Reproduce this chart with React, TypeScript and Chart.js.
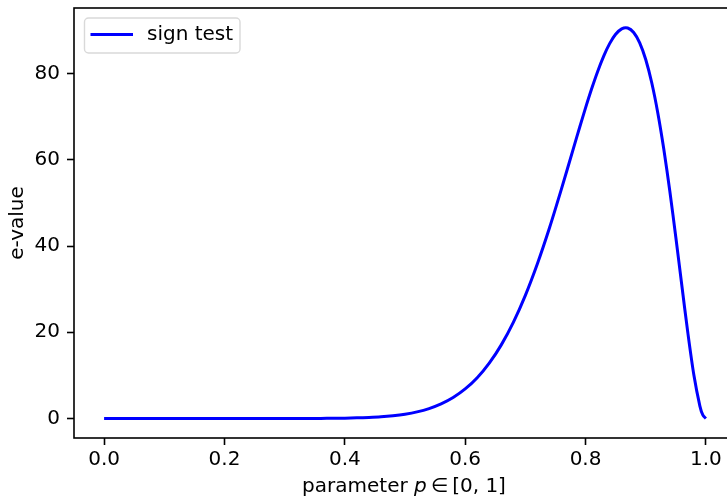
import React, { useEffect, useRef } from "react";
import { Chart, registerables } from "chart.js";

Chart.register(...registerables);

const pValues = [
  0, 0.1, 0.2, 0.3, 0.32, 0.34, 0.36, 0.38, 0.4, 0.42, 0.44, 0.46, 0.48, 0.5,
  0.52, 0.54, 0.56, 0.58, 0.6, 0.62, 0.64, 0.66, 0.68, 0.7, 0.72, 0.74, 0.76,
  0.78, 0.79, 0.8, 0.81, 0.82, 0.83, 0.84, 0.85, 0.86, 0.87, 0.88, 0.89, 0.9,
  0.91, 0.92, 0.93, 0.94, 0.95, 0.96, 0.97, 0.98, 0.99, 0.995, 1.0,
];
const eValues = [
  0, 0, 0, 0.003, 0.006, 0.012, 0.023, 0.043, 0.079, 0.14, 0.24, 0.39, 0.64,
  1.0, 1.53, 2.3, 3.38, 4.86, 6.85, 9.46, 12.84, 17.08, 22.3, 28.57, 35.9,
  44.19, 53.27, 62.73, 67.45, 72.06, 76.43, 80.46, 84.02, 86.97, 89.15, 90.41,
  90.6, 89.57, 87.17, 83.29, 77.89, 70.94, 62.51, 52.78, 42.05, 30.84, 19.85,
  10.08, 2.88, 0.77, 0,
];
const xTicks = [0, 0.2, 0.4, 0.6, 0.8, 1.0];
const yTicks = [0, 20, 40, 60, 80];
const seriesLabel = "sign test";
const yTitle = "e-value";
const xTitleParts = ["parameter ", "p", "\u2009\u2208\u2009[0, 1]"];

const FONT = "'DejaVu Sans', sans-serif";
const FS = 20;

const zeroPad = (s: any) => {
  s.paddingTop = 0;
  s.paddingBottom = 0;
  s.paddingLeft = 0;
  s.paddingRight = 0;
};

const framePlugin = {
  id: "frame",
  afterDraw(chart: any) {
    const { ctx, chartArea } = chart;
    const { left, right, top, bottom } = chartArea;
    ctx.save();
    // spines
    ctx.strokeStyle = "#000";
    ctx.lineWidth = 1.6;
    ctx.strokeRect(left, top, right - left, bottom - top);

    // legend
    const ds = chart.data.datasets[0];
    const bx = 84.5, by = 18, bw = 155.5, bh = 35, r = 4;
    ctx.beginPath();
    ctx.moveTo(bx + r, by);
    ctx.lineTo(bx + bw - r, by);
    ctx.arcTo(bx + bw, by, bx + bw, by + r, r);
    ctx.lineTo(bx + bw, by + bh - r);
    ctx.arcTo(bx + bw, by + bh, bx + bw - r, by + bh, r);
    ctx.lineTo(bx + r, by + bh);
    ctx.arcTo(bx, by + bh, bx, by + bh - r, r);
    ctx.lineTo(bx, by + r);
    ctx.arcTo(bx, by, bx + r, by, r);
    ctx.closePath();
    ctx.fillStyle = "rgba(255,255,255,0.8)";
    ctx.fill();
    ctx.strokeStyle = "#d9d9d9";
    ctx.lineWidth = 1.4;
    ctx.stroke();
    ctx.beginPath();
    ctx.moveTo(90.5, 34.5);
    ctx.lineTo(133, 34.5);
    ctx.strokeStyle = ds.borderColor;
    ctx.lineWidth = 3;
    ctx.stroke();
    ctx.fillStyle = "#000";
    ctx.font = `${FS}px ${FONT}`;
    ctx.textBaseline = "middle";
    ctx.textAlign = "left";
    ctx.fillText(ds.label, 147, 35);

    // y title
    ctx.save();
    ctx.translate(18, (top + bottom) / 2);
    ctx.rotate(-Math.PI / 2);
    ctx.textAlign = "center";
    ctx.textBaseline = "middle";
    ctx.fillText(yTitle, 0, 0);
    ctx.restore();

    // x title with italic p
    const fonts = [
      `${FS}px ${FONT}`,
      `italic ${FS}px ${FONT}`,
      `${FS}px ${FONT}`,
    ];
    let total = 0;
    const widths = xTitleParts.map((t, i) => {
      ctx.font = fonts[i];
      const w = ctx.measureText(t).width;
      total += w;
      return w;
    });
    let x = 404 - total / 2;
    ctx.textAlign = "left";
    ctx.textBaseline = "middle";
    xTitleParts.forEach((t, i) => {
      ctx.font = fonts[i];
      ctx.fillText(t, x, 487);
      x += widths[i];
    });
    ctx.restore();
  },
};

export default function App() {
  const ref = useRef<HTMLCanvasElement>(null);
  useEffect(() => {
    if (!ref.current) return;
    Chart.defaults.font.family = FONT;
    Chart.defaults.color = "#000";
    const chart = new Chart(ref.current, {
      type: "line",
      data: {
        datasets: [
          {
            label: seriesLabel,
            data: pValues.map((p, i) => ({ x: p, y: eValues[i] })),
            borderColor: "#0000ff",
            backgroundColor: "#0000ff",
            borderWidth: 3,
            pointRadius: 0,
            tension: 0.3,
            fill: false,
          },
        ],
      },
      options: {
        animation: false,
        responsive: false,
        devicePixelRatio: 1,
        layout: { padding: { left: 0, top: 8, right: 9, bottom: 0 } },
        plugins: {
          legend: { display: false },
          tooltip: { enabled: false },
        },
        scales: {
          x: {
            type: "linear",
            min: -0.05,
            max: 1.05,
            afterBuildTicks: (s: any) => {
              s.ticks = xTicks.map((v) => ({ value: v }));
            },
            afterFit: (s: any) => {
              s.height = 60;
              zeroPad(s);
            },
            border: { display: false },
            grid: {
              drawOnChartArea: false,
              drawTicks: true,
              tickLength: 7,
              tickColor: "#000",
              tickWidth: 1.6,
            },
            ticks: {
              font: { size: FS, family: FONT },
              color: "#000",
              padding: 3,
              maxRotation: 0,
              autoSkip: false,
              callback: (v: any) => Number(v).toFixed(1),
            },
          },
          y: {
            type: "linear",
            min: -4.53,
            max: 95.24,
            afterBuildTicks: (s: any) => {
              s.ticks = yTicks.map((v) => ({ value: v }));
            },
            afterFit: (s: any) => {
              s.width = 74;
              zeroPad(s);
            },
            border: { display: false },
            grid: {
              drawOnChartArea: false,
              drawTicks: true,
              tickLength: 7,
              tickColor: "#000",
              tickWidth: 1.6,
            },
            ticks: {
              font: { size: FS, family: FONT },
              color: "#000",
              padding: 7,
              autoSkip: false,
              callback: (v: any) => String(v),
            },
          },
        },
      },
      plugins: [framePlugin],
    } as any);
    return () => chart.destroy();
  }, []);
  return (
    <div
      style={{
        position: "fixed",
        left: 0,
        top: 0,
        width: 727,
        height: 498,
        overflow: "hidden",
        background: "#fff",
      }}
    >
      <canvas ref={ref} width={745} height={498} style={{ display: "block" }} />
    </div>
  );
}
